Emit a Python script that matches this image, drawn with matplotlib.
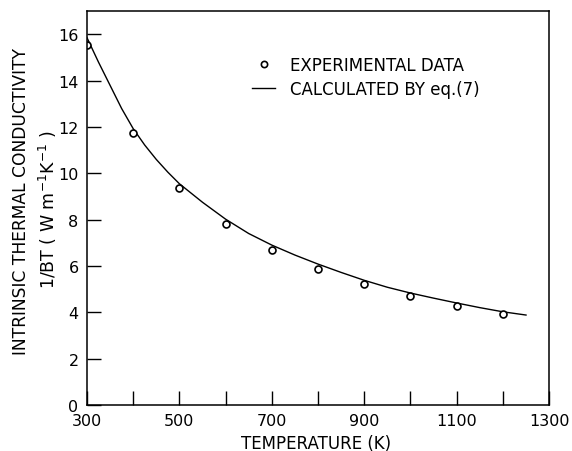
import matplotlib
matplotlib.use("Agg")
import matplotlib.pyplot as plt
from matplotlib.lines import Line2D

# Experimental data
exp_T = [300, 400, 500, 600, 700, 800, 900, 1000, 1100, 1200]
exp_k = [15.56, 11.72, 9.37, 7.79, 6.69, 5.86, 5.20, 4.71, 4.28, 3.92]

# Calculated curve (eq. 7)
calc_T = [300, 325, 350, 375, 400, 425, 450, 475, 500, 550, 600, 650, 700, 750, 800,
          850, 900, 950, 1000, 1050, 1100, 1150, 1200, 1250]
calc_k = [15.86, 14.8, 13.8, 12.8, 11.93, 11.22, 10.6, 10.05, 9.55, 8.75, 8.02, 7.40,
          6.90, 6.47, 6.08, 5.72, 5.38, 5.08, 4.83, 4.61, 4.40, 4.20, 4.02, 3.88]

x_ticks = [300, 400, 500, 600, 700, 800, 900, 1000, 1100, 1200, 1300]
x_ticklabels = ["300", "", "500", "", "700", "", "900", "", "1100", "", "1300"]
y_ticks = [0, 2, 4, 6, 8, 10, 12, 14, 16]

plt.rcParams['font.family'] = ['DejaVu Sans']

fig = plt.figure(figsize=(5.72, 4.52), dpi=100)
ax = fig.add_axes([0.152, 0.102, 0.808, 0.871])

ax.plot(calc_T, calc_k, color='black', lw=1.0)
ax.plot(exp_T, exp_k, linestyle='none', marker='o', markersize=5,
        markerfacecolor='white', markeredgecolor='black', markeredgewidth=1.2)

ax.set_xlim(300, 1300)
ax.set_ylim(0, 17.0)
ax.set_xticks(x_ticks)
ax.set_xticklabels(x_ticklabels)
ax.set_yticks(y_ticks)
ax.tick_params(direction='in', length=10, width=1, labelsize=11.5)
ax.tick_params(axis='y', pad=6)
ax.tick_params(axis='x', pad=6)
for s in ax.spines.values():
    s.set_linewidth(1.1)

fig.text(0.553, 0.017, "TEMPERATURE (K)", ha='center', va='center', fontsize=12)

fig.text(0.036, 0.555, "INTRINSIC THERMAL CONDUCTIVITY", rotation=90,
         ha='center', va='center', fontsize=12.3)
fig.text(0.084, 0.535, r"1/BT ( W m$^{-1}$K$^{-1}$ )", rotation=90,
         ha='center', va='center', fontsize=12.5)

handles = [Line2D([], [], linestyle='none', marker='o', markersize=4.5,
                  markerfacecolor='white', markeredgecolor='black', markeredgewidth=1.2),
           Line2D([], [], color='black', lw=1.0)]
ax.legend(handles, ["EXPERIMENTAL DATA", "CALCULATED BY eq.(7)"],
          loc='upper left', bbox_to_anchor=(0.325, 0.925), frameon=False,
          fontsize=12, handlelength=1.4, handletextpad=0.9, labelspacing=0.35)

fig.savefig("out.png", dpi=100)
